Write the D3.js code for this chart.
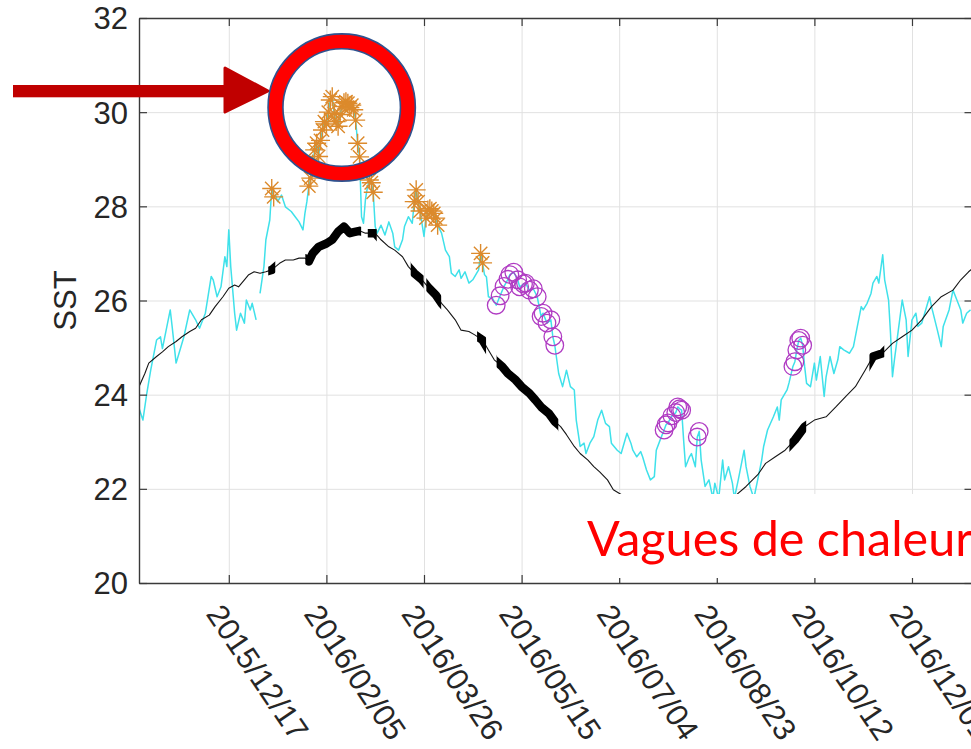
<!DOCTYPE html>
<html>
<head>
<meta charset="utf-8">
<script src="https://cdn.jsdelivr.net/npm/d3@7"></script>
<style>
  html, body { margin: 0; padding: 0; background: #ffffff; }
  svg { display: block; }
</style>
</head>
<body>
<svg id="chart" width="971" height="749"></svg>
<script>
// ---- data -------------------------------------------------------------
// Days are counted from 2015/11/01 (UTC).
const seriesStart = "2015/11/01";
const axisEnd = "2017/01/01";

const dateTickLabels = ["2015/12/17", "2016/02/05", "2016/03/26", "2016/05/15",
                        "2016/07/04", "2016/08/23", "2016/10/12", "2016/12/01"];
const sstTicks = [20, 22, 24, 26, 28, 30, 32];

// Observed daily SST (null = missing day)
const sstDay = [0,2,4,6,9,11,12,16,17,19,21,23,26,29,31,34,37,38,40,42,44,45,46,47,49,50,52,54,55,57,58,60,61,
  62,64,65,67,68,69,70,71,73,75,78,80,82,84,85,86,87,88,89,90,91,92,93,94,95,96,97,98,99,100,101,102,103,104,
  105,106,107,108,109,110,111,112,113,114,115,116,117,118,119,120,121,122,124,126,128,130,131,133,135,136,138,
  140,141,142,143,144,146,147,148,149,150,151,152,153,155,157,159,160,162,164,165,167,169,171,173,174,175,176,
  177,178,179,181,183,185,187,189,190,192,194,195,197,198,200,202,204,206,207,209,211,212,213,215,217,219,221,
  223,224,226,228,229,231,233,235,237,239,241,242,245,247,250,252,253,255,257,258,260,262,264,265,267,269,270,
  271,273,275,276,277,278,279,280,282,283,285,286,287,288,290,292,294,295,297,299,300,302,304,305,307,310,311,
  313,315,317,319,320,322,325,327,328,329,332,333,335,336,337,338,339,340,341,342,344,346,347,349,351,352,354,
  356,358,359,361,364,366,368,370,371,373,375,376,378,379,381,382,384,385,386,387,389,391,393,394,396,398,399,
  401,403,405,406,409,411,412,415,417,419,421,422,424,426];
const sstValue = [23.71,23.46,24.03,24.52,25.16,25.23,24.98,25.80,25.44,24.67,24.95,25.23,25.80,25.59,25.41,25.73,
  26.51,26.44,26.08,26.29,26.93,26.72,27.50,26.72,25.73,25.37,25.73,25.52,26.01,25.80,25.94,25.59,null,
  26.15,26.72,27.29,27.71,28.38,28.20,28.24,28.10,28.24,27.99,27.89,27.78,27.67,27.50,27.85,28.10,28.43,28.60,
  28.90,29.20,29.34,29.06,29.40,29.62,29.80,29.75,30.00,30.26,30.33,29.97,29.80,29.70,29.95,30.12,30.20,30.22,
  30.19,30.10,30.15,30.05,29.83,29.34,29.05,27.78,27.64,28.14,28.40,28.56,28.50,28.30,27.57,27.43,27.60,27.39,
  27.67,27.43,27.14,27.07,27.29,27.57,27.78,27.64,28.10,28.35,28.10,27.90,27.36,27.75,27.92,27.95,27.90,27.85,
  27.75,27.60,27.43,27.07,26.93,26.58,26.51,26.65,26.47,26.61,26.37,26.44,26.58,26.65,27.00,26.80,26.55,26.50,
  26.08,26.05,25.90,26.10,26.30,26.45,26.55,26.60,26.44,26.29,26.35,26.37,26.22,26.25,26.08,25.66,25.73,25.52,
  25.59,25.23,25.05,24.45,24.17,24.52,24.17,24.10,23.46,22.90,22.97,22.75,22.97,23.11,23.46,23.67,23.39,23.32,
  22.97,22.82,22.75,23.18,22.97,22.82,22.68,22.79,22.68,22.40,22.19,22.26,22.82,23.04,23.25,23.36,23.40,23.55,
  23.62,23.74,23.70,23.67,23.04,22.47,22.68,22.75,22.47,23.10,23.22,22.61,22.05,22.19,21.80,22.12,21.80,22.61,
  22.19,22.47,22.12,21.80,22.19,22.82,22.47,22.05,21.80,22.20,22.61,22.90,23.25,23.53,23.74,23.46,23.89,24.10,
  24.25,24.60,24.70,24.95,25.15,25.20,25.05,24.60,24.24,24.17,24.67,24.31,24.81,23.96,24.38,24.81,24.45,24.74,
  25.02,24.95,24.88,25.02,25.45,25.87,25.80,25.94,26.15,26.37,26.51,26.37,26.97,26.44,26.01,25.30,24.38,24.74,
  25.37,26.01,25.59,24.81,25.59,25.73,25.45,25.52,25.80,26.08,25.87,25.37,25.02,25.45,25.80,26.22,26.01,25.80,
  25.52,25.73,25.80];

// Climatological SST
const climDay = [0,3,5,9,12,15,19,22,26,29,32,36,39,43,46,49,51,54,56,59,62,65,68,72,75,79,82,85,87,89,92,96,99,
  102,105,108,110,113,116,121,124,128,131,135,138,141,145,148,152,155,158,162,165,169,172,176,179,182,186,189,
  193,196,200,203,206,210,213,216,219,223,226,230,233,236,240,243,247,252,258,264,270,276,282,288,294,300,306,
  311,317,321,326,331,336,341,346,352,357,362,367,372,376,381,386,391,396,401,406,411,417,421,425,427];
const climValue = [24.17,24.45,24.67,24.81,24.91,25.02,25.13,25.23,25.34,25.41,25.59,25.69,25.87,26.08,26.26,26.33,
  26.29,26.44,26.54,26.61,26.58,26.61,26.65,26.79,26.86,26.86,26.90,26.90,26.83,27.00,27.14,27.21,27.29,27.46,
  27.57,27.43,27.45,27.48,27.43,27.43,27.29,27.14,27.07,26.93,26.72,26.58,26.44,26.29,26.12,25.94,25.80,25.59,
  25.37,25.34,25.27,25.16,24.95,24.74,24.60,24.45,24.31,24.17,24.03,23.89,23.74,23.60,23.43,23.32,23.15,22.90,
  22.75,22.61,22.47,22.36,22.19,21.98,21.88,21.82,21.76,21.70,21.66,21.62,21.62,21.65,21.70,21.78,21.87,22.05,
  22.30,22.54,22.68,22.82,23.04,23.32,23.46,23.53,23.74,23.96,24.17,24.52,24.81,24.88,25.09,25.23,25.37,25.59,
  25.87,26.08,26.22,26.44,26.61,26.68];

// Event periods [first day, last day]
const heatEvents = [[68, 69], [87, 113], [118, 120], [141, 144], [147, 153], [175, 176]];
const coldEvents = [[183, 213], [269, 278], [286, 287], [335, 340]];
const climEvents = [[67, 69], [86, 113], [118, 121], [140, 145], [148, 154], [174, 177],
                    [184, 214], [269, 278], [286, 287], [334, 341], [375, 381]];

const noteText = "Vagues de chaleur";
const yLabel = "SST";

// ---- setup ------------------------------------------------------------
const parseDay = d3.utcParse("%Y/%m/%d");
const t0 = parseDay(seriesStart);

const plotL = 139, plotR = 972.5, plotT = 18, plotB = 583;
const x = d3.scaleUtc().domain([t0, parseDay(axisEnd)]).range([plotL, plotR]);
const y = d3.scaleLinear().domain([20, 32]).range([plotB, plotT]);
const tickDates = dateTickLabels.map(parseDay);
const dayX = t => x(new Date(t0.getTime() + t * 864e5));

const sst = sstDay.map((t, i) => ({ t, v: sstValue[i] }));
const clim = climDay.map((t, i) => ({ t, v: climValue[i] }));
const inEvents = (ev, t) => ev.some(([a, b]) => t >= a && t <= b);

const svg = d3.select("#chart");
svg.append("rect").attr("width", 971).attr("height", 749).attr("fill", "#fff");

const defs = svg.append("defs");
defs.append("clipPath").attr("id", "plotClip")
  .append("rect").attr("x", plotL).attr("y", plotT)
  .attr("width", plotR - plotL).attr("height", plotB - plotT);

const evClip = defs.append("clipPath").attr("id", "climEventClip");
evClip.selectAll("rect").data(climEvents).join("rect")
  .attr("x", d => dayX(d[0] - 0.8))
  .attr("width", d => dayX(d[1] + 0.8) - dayX(d[0] - 0.8))
  .attr("y", plotT).attr("height", plotB - plotT);

const font = "'Liberation Sans', Arial, Helvetica, sans-serif";
const textColor = "#262626";
const gridColor = "#e1e1e1";
const axisColor = "#3a3a3a";

// ---- grid -------------------------------------------------------------
const grid = svg.append("g");
grid.append("g").attr("transform", `translate(0,${plotB})`)
  .call(d3.axisBottom(x).tickValues(tickDates).tickSize(-(plotB - plotT)).tickFormat(""))
  .call(g => g.select(".domain").remove());
grid.append("g").attr("transform", `translate(${plotL},0)`)
  .call(d3.axisLeft(y).tickValues(sstTicks).tickSize(-(plotR - plotL)).tickFormat(""))
  .call(g => g.select(".domain").remove());
grid.selectAll("line").attr("stroke", gridColor).attr("stroke-width", 1);

// ---- data layers --------------------------------------------------------
const plot = svg.append("g").attr("clip-path", "url(#plotClip)");

const line = d3.line()
  .defined(d => d.v != null)
  .x(d => dayX(d.t))
  .y(d => y(d.v));

plot.append("path").datum(sst)
  .attr("d", line).attr("fill", "none")
  .attr("stroke", "#3fe1ea").attr("stroke-width", 1.5).attr("stroke-linejoin", "round");

plot.append("path").datum(clim)
  .attr("d", line).attr("fill", "none")
  .attr("stroke", "#161616").attr("stroke-width", 1.1).attr("stroke-linejoin", "round");

// climatology days flagged by an event
plot.append("g").attr("clip-path", "url(#climEventClip)")
  .append("path").datum(clim)
  .attr("d", line).attr("fill", "none")
  .attr("stroke", "#000").attr("stroke-width", 8.5)
  .attr("stroke-linejoin", "round").attr("stroke-linecap", "round");

// heatwave days: asterisks on the observed series
const heatPts = sst.filter(d => d.v != null && inEvents(heatEvents, d.t));
const star = (cx, cy) => {
  const r = 9.5, k = 6.7;
  return `M${cx - r},${cy}h${2 * r}M${cx},${cy - r}v${2 * r}` +
         `M${cx - k},${cy - k}l${2 * k},${2 * k}M${cx - k},${cy + k}l${2 * k},${-2 * k}`;
};
plot.append("g").selectAll("path").data(heatPts).join("path")
  .attr("d", d => star(dayX(d.t), y(d.v)))
  .attr("fill", "none").attr("stroke", "#dc8a2c").attr("stroke-width", 1.4);

// cold-spell days: open circles on the observed series
const coldPts = sst.filter(d => d.v != null && inEvents(coldEvents, d.t));
plot.append("g").selectAll("circle").data(coldPts).join("circle")
  .attr("cx", d => dayX(d.t)).attr("cy", d => y(d.v)).attr("r", 8.8)
  .attr("fill", "none").attr("stroke", "#b03cc3").attr("stroke-width", 1.3);

// ---- axes ---------------------------------------------------------------
const axes = svg.append("g");
const yAxis = axes.append("g").attr("transform", `translate(${plotL},0)`)
  .call(d3.axisLeft(y).tickValues(sstTicks).tickSize(-8).tickSizeOuter(0).tickPadding(11));
axes.append("g").attr("transform", `translate(${plotR},0)`)
  .call(d3.axisRight(y).tickValues(sstTicks).tickSize(-8).tickSizeOuter(0).tickFormat(""));
axes.append("g").attr("transform", `translate(0,${plotT})`)
  .call(d3.axisTop(x).tickValues(tickDates).tickSize(-8).tickSizeOuter(0).tickFormat(""));
const xAxis = axes.append("g").attr("transform", `translate(0,${plotB})`)
  .call(d3.axisBottom(x).tickValues(tickDates).tickSize(-8).tickSizeOuter(0)
    .tickFormat(d3.utcFormat("%Y/%m/%d")));

axes.selectAll(".domain").attr("stroke", axisColor).attr("stroke-width", 1.4);
axes.selectAll(".tick line").attr("stroke", axisColor).attr("stroke-width", 1.2);
axes.selectAll("text").attr("font-family", font).attr("font-size", 31).attr("fill", textColor);

yAxis.selectAll("text").attr("dy", "0.35em");
xAxis.selectAll("text")
  .attr("x", 0).attr("y", 0).attr("dy", 0)
  .attr("text-anchor", "start")
  .attr("transform", "translate(-24,31) rotate(56)");

svg.append("text")
  .attr("transform", `translate(76,${(plotT + plotB) / 2}) rotate(-90)`)
  .attr("text-anchor", "middle")
  .attr("font-family", font).attr("font-size", 31).attr("fill", textColor)
  .text(yLabel);

// ---- annotation -----------------------------------------------------------
const note = svg.append("g");
note.append("rect").attr("x", 560).attr("y", 494).attr("width", 420).attr("height", 84).attr("fill", "#fff");
note.append("text").attr("x", 587).attr("y", 556)
  .attr("font-family", "Lato, 'Open Sans', sans-serif").attr("font-size", 48.5).attr("fill", "#ff0000")
  .text(noteText);

// arrow pointing at the heatwave peak
note.append("rect").attr("x", 13).attr("y", 85).attr("width", 213).attr("height", 12.3).attr("fill", "#c00000");
note.append("path").attr("d", "M225,68L268,91L225,112Z")
  .attr("fill", "#c00000").attr("stroke", "#c00000").attr("stroke-width", 3).attr("stroke-linejoin", "round");

// ring around the peak
note.append("circle").attr("cx", 341.7).attr("cy", 107.5).attr("r", 66.2)
  .attr("fill", "none").attr("stroke", "#2f528f").attr("stroke-width", 16.5);
note.append("circle").attr("cx", 341.7).attr("cy", 107.5).attr("r", 66.2)
  .attr("fill", "none").attr("stroke", "#ff0000").attr("stroke-width", 13.3);
</script>
</body>
</html>
